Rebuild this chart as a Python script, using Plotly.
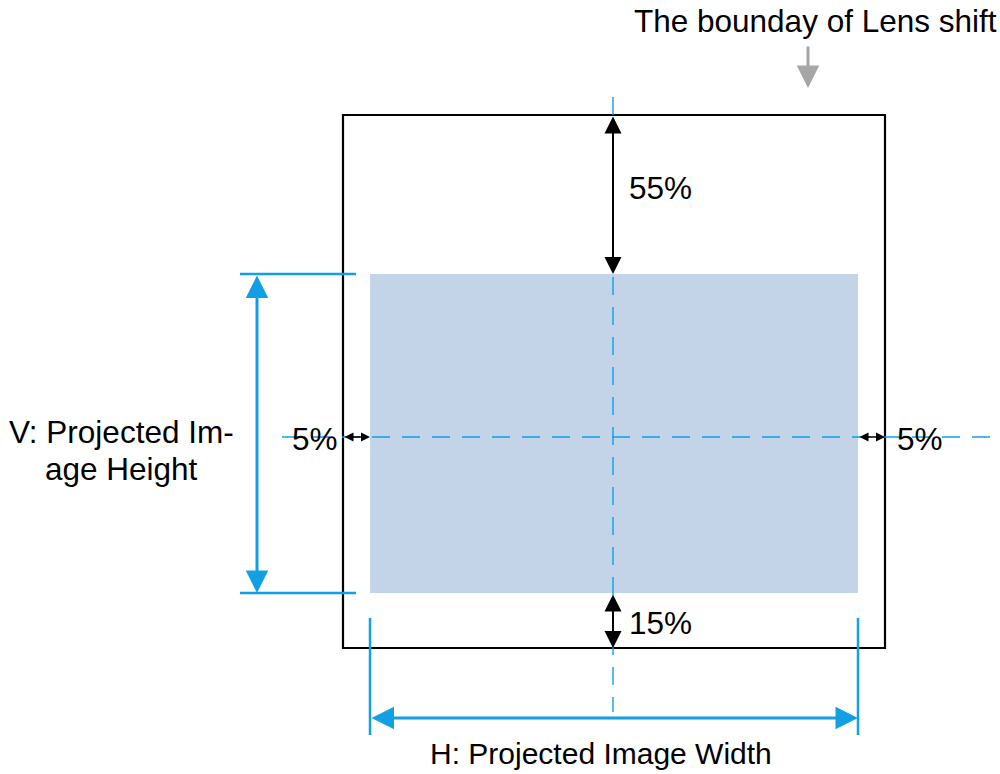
import plotly.graph_objects as go

# diagram geometry (pixel units of the canvas)
box_x = [343, 885]          # lens shift boundary
box_y = [115, 648]
img_x = [370, 858]          # projected image
img_y = [274, 593]
center = [613, 437]

shift_labels = ["55%", "15%", "5%", "5%"]
title_text = "The bounday of Lens shift"
v_label = ["V: Projected Im-", "age Height"]
h_label = "H: Projected Image Width"

BLUE = "#12A0E4"
FILL = "#C3D3E8"
FONT = "Liberation Sans, Arial, sans-serif"

fig = go.Figure()
# invisible trace so axes exist
fig.add_trace(go.Scatter(x=[0, 1000], y=[0, 774], mode="markers",
                         marker=dict(opacity=0), hoverinfo="skip", showlegend=False))

shapes = [
    dict(type="rect", x0=img_x[0], x1=img_x[1], y0=img_y[0], y1=img_y[1],
         fillcolor=FILL, line=dict(width=0), layer="below"),
    dict(type="rect", x0=box_x[0], x1=box_x[1], y0=box_y[0], y1=box_y[1],
         line=dict(color="black", width=2.2)),
    # dashed center lines
    dict(type="line", x0=center[0], x1=center[0], y0=97, y1=712,
         line=dict(color=BLUE, width=1.4, dash="18px,12px")),
    dict(type="line", x0=282, x1=990, y0=center[1], y1=center[1],
         line=dict(color=BLUE, width=1.4, dash="18px,12px")),
    # extension lines
    dict(type="line", x0=240, x1=356, y0=img_y[0], y1=img_y[0], line=dict(color=BLUE, width=2.5)),
    dict(type="line", x0=240, x1=356, y0=img_y[1], y1=img_y[1], line=dict(color=BLUE, width=2.5)),
    dict(type="line", x0=img_x[0], x1=img_x[0], y0=618, y1=735, line=dict(color=BLUE, width=2.5)),
    dict(type="line", x0=img_x[1], x1=img_x[1], y0=618, y1=735, line=dict(color=BLUE, width=2.5)),
]


def dbl_arrow(x0, y0, x1, y1, color, width, size, head=2):
    return dict(x=x1, y=y1, ax=x0, ay=y0, xref="x", yref="y", axref="x", ayref="y",
                text="", showarrow=True, arrowside="end+start",
                arrowhead=head, startarrowhead=head, arrowsize=size, startarrowsize=size,
                arrowwidth=width, arrowcolor=color)


annotations = [
    dbl_arrow(center[0], box_y[0], center[0], img_y[0], "black", 2, 1.7),
    dbl_arrow(center[0], img_y[1], center[0], box_y[1], "black", 2, 1.7),
    dbl_arrow(box_x[0], center[1], img_x[0], center[1], "black", 1.5, 1.2),
    dbl_arrow(img_x[1], center[1], box_x[1], center[1], "black", 1.5, 1.2),
    dbl_arrow(257, img_y[0], 257, img_y[1], BLUE, 3, 1.5),
    dbl_arrow(img_x[0], 718, img_x[1], 718, BLUE, 3, 1.5),
    # gray pointer
    dict(x=808, y=88, ax=808, ay=45, xref="x", yref="y", axref="x", ayref="y",
         text="", showarrow=True, arrowhead=2, arrowsize=1.5, arrowwidth=3,
         arrowcolor="#A6A6A6"),
]

text_items = [
    (title_text, 815, 21, "center", 31.5),
    (shift_labels[0], 627, 188, "left", 31.5),
    (shift_labels[1], 627, 623, "left", 31.5),
    (shift_labels[2], 340, 439, "right", 31.5),
    (shift_labels[3], 895, 439, "left", 31.5),
    (v_label[0], 121, 432, "center", 31.5),
    (v_label[1], 121, 469, "center", 31.5),
    (h_label, 601, 753, "center", 30),
]
for txt, x, y, anchor, fs in text_items:
    annotations.append(dict(x=x, y=y, xref="x", yref="y", text=txt, showarrow=False,
                            xanchor=anchor, yanchor="middle", align="center",
                            font=dict(family=FONT, size=fs, color="black")))

fig.update_layout(
    width=1000, height=774,
    margin=dict(l=0, r=0, t=0, b=0),
    paper_bgcolor="white", plot_bgcolor="white",
    xaxis=dict(range=[0, 1000], visible=False, fixedrange=True),
    yaxis=dict(range=[774, 0], visible=False, fixedrange=True),
    shapes=shapes, annotations=annotations,
    showlegend=False,
)

fig.write_html("out.html", config=dict(displayModeBar=False),
               post_script="document.body.style.margin='0';")
